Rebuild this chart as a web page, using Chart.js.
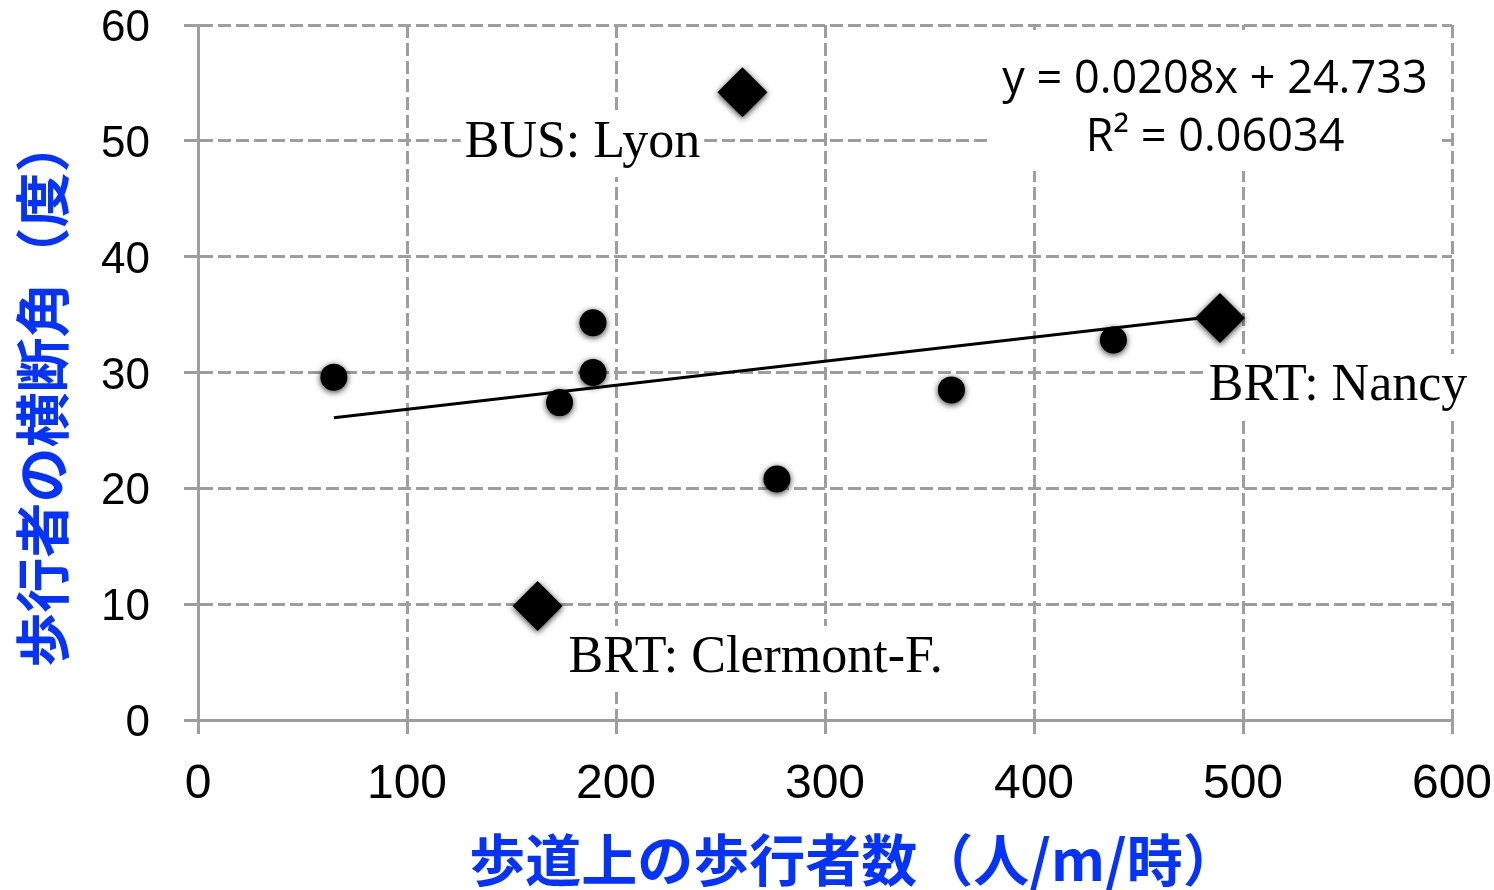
<!DOCTYPE html>
<html><head><meta charset="utf-8">
<script src="https://cdn.jsdelivr.net/npm/chart.js@4.4.1/dist/chart.umd.min.js"></script>
<style>html,body{margin:0;padding:0;background:#fff;overflow:hidden}#wrap{width:1494px;height:890px;position:relative}</style>
</head><body><div id="wrap"><canvas id="c" width="1494" height="890"></canvas></div>
<script>
// ---- data ----
const circleX = [65, 173, 189, 189, 277, 360.5, 438];
const circleY = [29.6, 27.4, 34.3, 30.0, 20.8, 28.5, 32.8];
const diamondX = [162.5, 260.5, 489];
const diamondY = [9.85, 54.2, 34.7];
const diamondNames = ['BRT: Clermont-F.', 'BUS: Lyon', 'BRT: Nancy'];
const trendSlope = [0.0208];
const trendIntercept = [24.733];
const rSquared = [0.06034];
const xTicks = [0, 100, 200, 300, 400, 500, 600];
const yTicks = [0, 10, 20, 30, 40, 50, 60];
const xTitle = '歩道上の歩行者数（人/m/時）';
const yTitle = '歩行者の横断角（度）';

// ---- derived ----
const circles = circleX.map((x, i) => ({x, y: circleY[i]}));
const diamonds = diamondX.map((x, i) => ({x, y: diamondY[i]}));
const allX = circleX.concat(diamondX);
const tMin = Math.min(...allX), tMax = Math.max(...allX);
const trend = [tMin, tMax].map(x => ({x, y: trendSlope[0] * x + trendIntercept[0]}));
const eqLines = ['y = ' + trendSlope[0] + 'x + ' + trendIntercept[0], 'R² = ' + rSquared[0]];

// label placement (pixel offsets from the labelled point: centre x, baseline y)
const labelOffsets = [[218, 66], [-160, 65], [118, 82]];

const GRID = '#9e9e9e';
const BLUE = '#0433ff';

const labelPlugin = {
  id: 'labels',
  beforeDatasetsDraw(chart) {
    const {ctx, scales: {x, y}, chartArea} = chart;
    ctx.save();
    ctx.font = '52px "Liberation Serif", "Times New Roman", serif';
    ctx.textAlign = 'center';
    ctx.textBaseline = 'alphabetic';
    diamondNames.forEach((name, i) => {
      const px = x.getPixelForValue(diamondX[i]) + labelOffsets[i][0];
      const py = y.getPixelForValue(diamondY[i]) + labelOffsets[i][1];
      const w = ctx.measureText(name).width;
      ctx.fillStyle = '#fff';
      ctx.fillRect(px - w / 2 - 4, py - 46, w + 8, 66);
      ctx.fillStyle = '#000';
      ctx.fillText(name, px, py);
    });
    // regression equation box
    const bx1 = chartArea.right - 12, bx0 = chartArea.right - 462;
    const by0 = chartArea.top + 5, by1 = chartArea.top + 146;
    ctx.fillStyle = '#fff';
    ctx.fillRect(bx0, by0, bx1 - bx0, by1 - by0);
    ctx.fillStyle = '#000';
    ctx.font = '45px "Open Sans", "Noto Sans", sans-serif';
    const cx = (bx0 + bx1) / 2;
    ctx.fillText(eqLines[0], cx, chartArea.top + 68);
    ctx.fillText(eqLines[1], cx, chartArea.top + 126);
    // axis titles
    ctx.fillStyle = BLUE;
    ctx.textBaseline = 'middle';
    ctx.font = 'bold 56px "Noto Sans CJK JP", sans-serif';
    ctx.fillText(xTitle, (chartArea.left + chartArea.right) / 2 + 29, chartArea.bottom + 140);
    ctx.save();
    ctx.translate(42, (chartArea.top + chartArea.bottom) / 2 + 20);
    ctx.rotate(-Math.PI / 2);
    ctx.font = 'bold 55px "Noto Sans CJK JP", sans-serif';
    ctx.fillText(yTitle, 0, 0);
    ctx.restore();
    ctx.restore();
  },
  beforeDatasetDraw(chart, args) {
    if (args.index > 0) {
      const ctx = chart.ctx;
      ctx.save();
      ctx.shadowColor = 'rgba(0,0,0,0.8)';
      ctx.shadowBlur = 6;
      ctx.shadowOffsetY = 1.5;
    }
  },
  afterDatasetDraw(chart, args) {
    if (args.index > 0) chart.ctx.restore();
  }
};

new Chart(document.getElementById('c'), {
  type: 'scatter',
  data: {
    datasets: [
      {label: 'trend', data: trend, showLine: true, borderColor: '#000', borderWidth: 3,
       pointRadius: 0, fill: false},
      {label: 'circles', data: circles, pointStyle: 'circle', pointRadius: 13.5,
       backgroundColor: '#000', borderWidth: 0},
      {label: 'diamonds', data: diamonds, pointStyle: 'rectRot', pointRadius: 25,
       backgroundColor: '#000', borderWidth: 0}
    ]
  },
  options: {
    responsive: false, animation: false, devicePixelRatio: 1,
    layout: {padding: {left: 0, right: 42, top: 24, bottom: 0}},
    plugins: {legend: {display: false}, tooltip: {enabled: false}},
    scales: {
      x: {
        type: 'linear', min: 0, max: 600,
        afterBuildTicks: s => { s.ticks = xTicks.map(v => ({value: v})); },
        afterFit: s => { s.height = 170; s.paddingLeft = 0; s.paddingRight = 0; },
        grid: {color: GRID, lineWidth: 3, tickLength: 14, tickColor: GRID, tickWidth: 3},
        border: {display: true, color: GRID, width: 3, dash: [13, 5]},
        ticks: {color: '#000', padding: 27,
                font: {family: '"Liberation Sans Narrow", "Liberation Sans", Arial, sans-serif', size: 48, lineHeight: 1}},
        title: {display: false}
      },
      y: {
        type: 'linear', min: 0, max: 60,
        afterBuildTicks: s => { s.ticks = yTicks.map(v => ({value: v})); },
        afterFit: s => { s.width = 198; s.paddingTop = 0; s.paddingBottom = 0; },
        grid: {color: GRID, lineWidth: 3, tickLength: 14, tickColor: GRID, tickWidth: 3},
        border: {display: true, color: GRID, width: 3, dash: [13, 5]},
        ticks: {color: '#000', padding: 34, labelOffset: 4,
                font: {family: '"Liberation Sans", Arial, sans-serif', size: 44, lineHeight: 1}},
        title: {display: false}
      }
    }
  },
  plugins: [labelPlugin]
});
</script>
</body></html>
